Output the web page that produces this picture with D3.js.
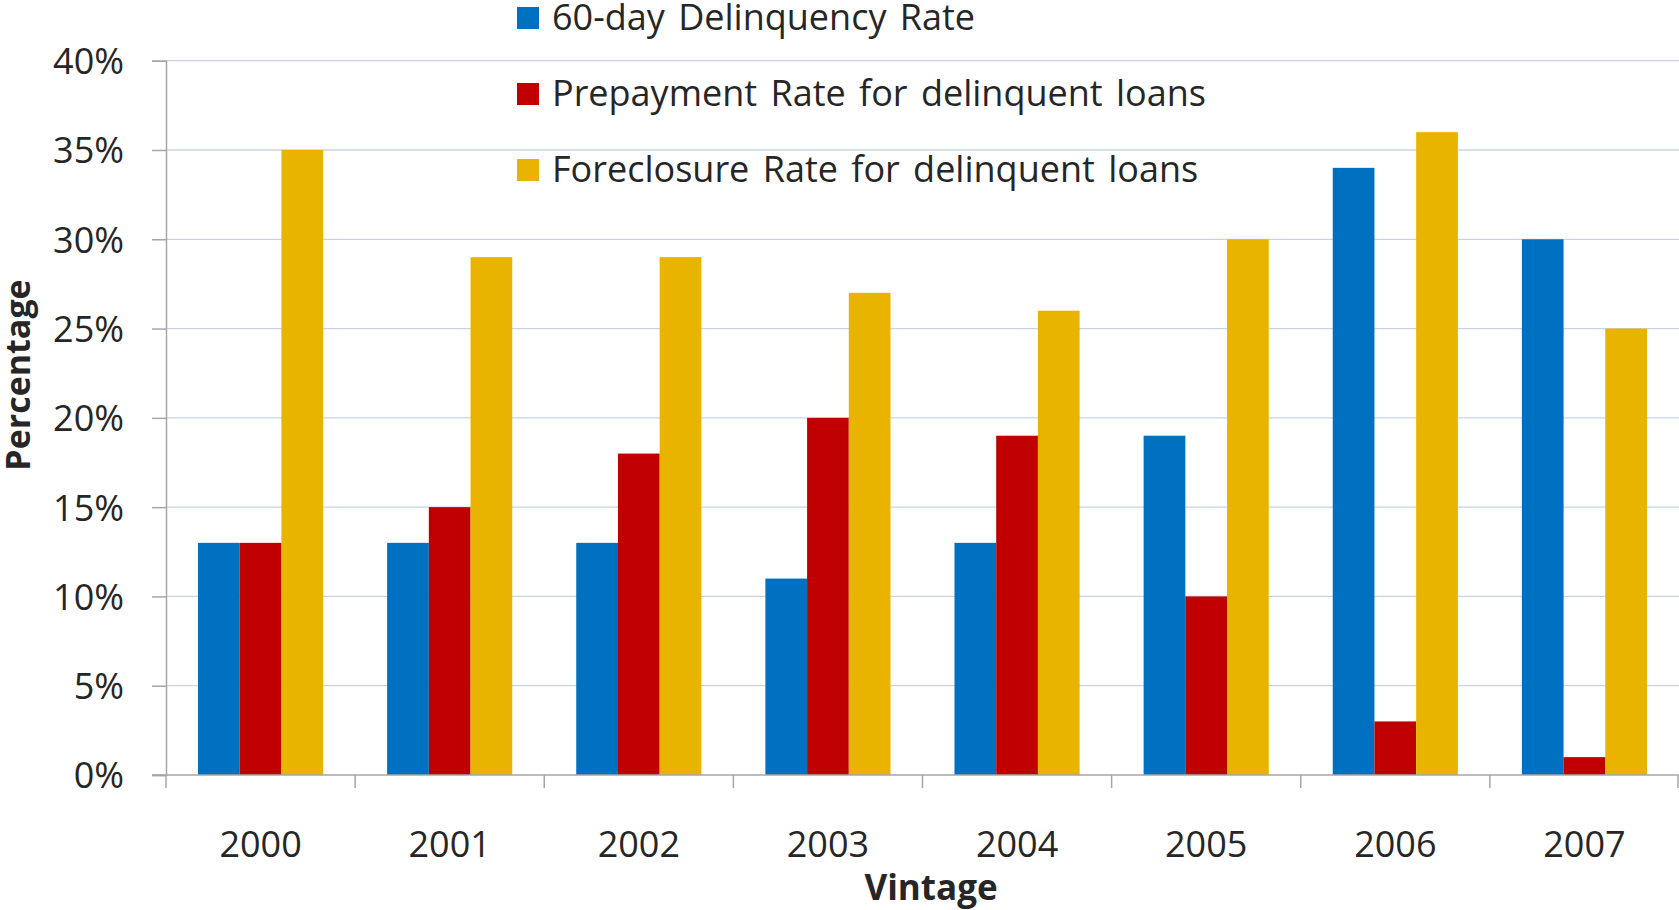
<!DOCTYPE html>
<html>
<head>
<meta charset="utf-8">
<script src="https://cdn.jsdelivr.net/npm/d3@7"></script>
<style>
  html, body { margin: 0; padding: 0; background: #ffffff; }
  svg { display: block; }
  text { font-family: "Open Sans", "Noto Sans", sans-serif; fill: #262626; }
</style>
</head>
<body>
<svg id="chart" width="1679" height="910"></svg>
<script>
// Vintage years on the category axis
const vintages = ["2000", "2001", "2002", "2003", "2004", "2005", "2006", "2007"];

// Series names (legend order)
const seriesNames = [
  "60-day Delinquency Rate",
  "Prepayment Rate for delinquent loans",
  "Foreclosure Rate for delinquent loans"
];

// Rates per vintage, in percent
const delinquency60 = [13, 13, 13, 11, 13, 19, 34, 30];
const prepayment    = [13, 15, 18, 20, 19, 10, 3, 1];
const foreclosure   = [35, 29, 29, 27, 26, 30, 36, 25];

// Y-axis ticks, in percent
const yTicks = [0, 5, 10, 15, 20, 25, 30, 35, 40];

const seriesColors = ["#0070C0", "#C00000", "#E8B400"];
const seriesValues = [delinquency60, prepayment, foreclosure];

const svg = d3.select("#chart");

const plot = { left: 166, right: 1679, top: 60.7, bottom: 775 };

const x0 = d3.scaleBand()
  .domain(vintages)
  .range([plot.left, plot.right])
  .paddingInner(0)
  .paddingOuter(0);

const x1 = d3.scaleBand()
  .domain(d3.range(seriesNames.length))
  .range([0, x0.bandwidth()])
  .paddingInner(0)
  .paddingOuter(0.767);

const y = d3.scaleLinear()
  .domain([0, 40])
  .range([plot.bottom, plot.top]);

// Horizontal gridlines
svg.append("g")
  .selectAll("line")
  .data(yTicks.filter(t => t > 0))
  .join("line")
  .attr("x1", plot.left)
  .attr("x2", plot.right)
  .attr("y1", d => y(d))
  .attr("y2", d => y(d))
  .attr("stroke", "#C8D4E6")
  .attr("stroke-width", 1.3);

// Bars
const groups = svg.append("g")
  .selectAll("g")
  .data(vintages)
  .join("g")
  .attr("transform", d => `translate(${x0(d)},0)`);

groups.selectAll("rect")
  .data((d, i) => seriesValues.map((vals, s) => ({ s, v: vals[i] })))
  .join("rect")
  .attr("x", d => x1(d.s))
  .attr("width", x1.bandwidth())
  .attr("y", d => y(d.v))
  .attr("height", d => y(0) - y(d.v))
  .attr("fill", d => seriesColors[d.s]);

// Y axis
const yAxis = svg.append("g")
  .attr("transform", `translate(${plot.left},0)`)
  .call(d3.axisLeft(y)
    .tickValues(yTicks)
    .tickSize(14)
    .tickPadding(28)
    .tickFormat(d => d + "%"));
yAxis.select(".domain").attr("stroke", "#A6A6A6").attr("stroke-width", 1.5);
yAxis.selectAll(".tick line").attr("stroke", "#A6A6A6").attr("stroke-width", 1.5);
yAxis.selectAll(".tick text")
  .attr("font-size", 36)
  .attr("font-family", "'Open Sans', sans-serif")
  .attr("fill", "#262626")
  .attr("dy", "0.36em");

// X axis baseline with ticks at the category boundaries
const xAxis = svg.append("g");
xAxis.append("line")
  .attr("x1", plot.left - 14)
  .attr("x2", plot.right)
  .attr("y1", y(0))
  .attr("y2", y(0))
  .attr("stroke", "#A6A6A6")
  .attr("stroke-width", 1.5);

const boundaries = vintages.map(v => x0(v)).concat([x0.range()[1] - 1]);
xAxis.selectAll("line.tick")
  .data(boundaries)
  .join("line")
  .attr("class", "tick")
  .attr("x1", d => d)
  .attr("x2", d => d)
  .attr("y1", y(0))
  .attr("y2", y(0) + 13)
  .attr("stroke", "#A6A6A6")
  .attr("stroke-width", 1.5);

xAxis.selectAll("text")
  .data(vintages)
  .join("text")
  .attr("x", d => x0(d) + x0.bandwidth() / 2)
  .attr("y", 856.5)
  .attr("text-anchor", "middle")
  .attr("font-size", 36)
  .text(d => d);

// Axis titles
svg.append("text")
  .attr("x", 931)
  .attr("y", 900)
  .attr("text-anchor", "middle")
  .attr("font-size", 35)
  .attr("font-weight", "bold")
  .attr("fill", "#1a1a1a")
  .text("Vintage");

svg.append("text")
  .attr("transform", "translate(30,375) rotate(-90)")
  .attr("text-anchor", "middle")
  .attr("font-size", 34)
  .attr("font-weight", "bold")
  .attr("fill", "#1a1a1a")
  .text("Percentage");

// Legend
const legend = svg.append("g").attr("transform", "translate(517,0)");
const legendBaselines = [30, 106, 182];
const legendRows = legend.selectAll("g")
  .data(seriesNames)
  .join("g")
  .attr("transform", (d, i) => `translate(0,${legendBaselines[i]})`);

legendRows.append("rect")
  .attr("x", 0)
  .attr("y", -23)
  .attr("width", 22)
  .attr("height", 22)
  .attr("fill", (d, i) => seriesColors[i]);

legendRows.append("text")
  .attr("x", 35)
  .attr("y", 0)
  .attr("font-size", 36)
  .attr("word-spacing", 4)
  .text(d => d);
</script>
</body>
</html>
